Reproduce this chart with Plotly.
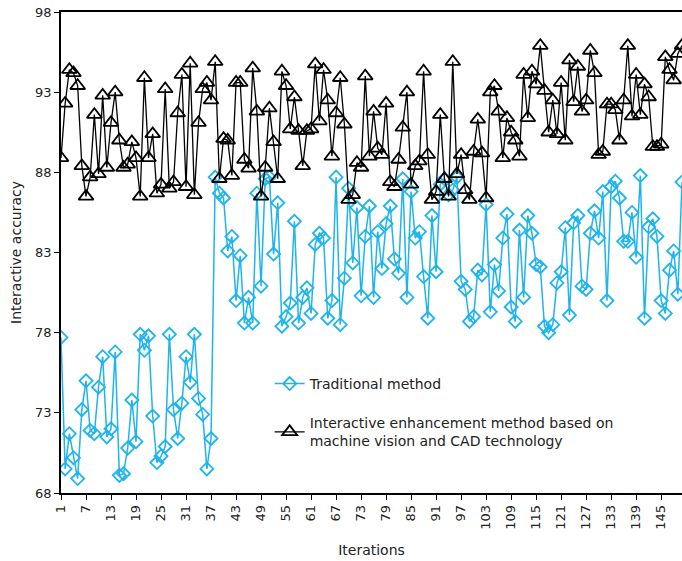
import plotly.graph_objects as go

iterations = list(range(1, 151))

traditional = [
    77.7, 69.5, 71.7, 70.2, 68.9, 73.2, 75.0, 71.9, 71.7, 74.6, 76.5, 71.5, 72.0, 76.8, 69.1, 69.2, 70.8, 73.8, 71.2, 77.9, 76.9, 77.8, 72.8, 69.9,
    70.3, 70.9, 77.9, 73.2, 71.4, 73.6, 76.5, 74.9, 77.9, 73.9, 72.9, 69.5, 71.4, 87.7, 86.7, 86.4, 83.1, 84.0, 80.0, 82.8, 78.6, 80.2, 78.6, 86.7, 80.9, 87.6,
    87.7, 82.9, 86.1, 78.4, 79.0, 79.85, 84.95, 78.6, 80.2, 80.8, 79.2, 83.5, 84.2, 83.9, 78.9, 80.0, 87.7, 78.5, 81.4, 87.0, 82.35, 85.8, 80.3, 84.0, 85.9,
    80.2, 84.3, 82.0, 84.8, 85.9, 82.6, 81.7, 87.6, 80.2, 86.8, 83.9, 84.3, 81.5, 78.9, 85.3, 81.8, 87.25, 87.6, 86.6, 86.9, 87.7, 81.2, 80.7, 78.7, 79.0,
    81.9, 81.6, 86.0, 79.3, 82.25, 80.6, 83.9, 85.4, 79.6, 78.7, 84.4, 80.2, 85.3, 84.2, 82.25, 82.1, 78.4, 78.0, 78.5, 81.1, 81.8, 84.55, 79.1, 84.85, 85.3, 80.9,
    80.7, 84.2, 85.6, 83.9, 86.8, 80.0, 87.1, 87.45, 86.4, 83.7, 83.7, 85.5, 82.7, 87.8, 78.9, 84.6, 85.1, 84.0, 80.0, 79.2, 81.9, 83.1, 80.4, 87.4,
]

enhanced = [
    88.9, 92.3, 94.4, 94.2, 93.4, 88.4, 86.5, 87.7, 91.6, 87.9, 92.8, 88.3, 91.1, 93.0, 90.0, 88.3, 88.5, 89.9, 88.9, 86.5, 93.9, 88.9, 90.4, 86.7,
    87.25, 93.2, 87.0, 87.4, 91.7, 94.1, 87.1, 94.8, 86.6, 91.1, 93.2, 93.6, 92.5, 94.9, 87.6, 90.1, 90.0, 87.8, 93.6, 93.6, 88.8, 88.25, 94.5, 91.8, 86.5, 88.3,
    92.0, 89.9, 87.6, 94.3, 93.4, 90.7, 92.7, 90.6, 88.4, 90.6, 90.7, 94.75, 91.2, 94.4, 92.5, 89.0, 91.7, 93.9, 91.0, 86.3, 86.6, 88.6, 88.3, 94.0, 89.0,
    91.8, 89.5, 89.1, 92.3, 87.4, 87.1, 88.8, 90.8, 93.0, 87.25, 88.4, 88.7, 94.3, 89.1, 86.3, 86.8, 91.6, 87.6, 86.5, 94.9, 87.9, 89.1, 86.9, 86.3, 89.3,
    91.3, 89.2, 86.4, 93.0, 93.4, 91.8, 88.9, 91.4, 90.5, 90.0, 89.0, 94.1, 91.4, 94.3, 93.5, 95.9, 93.1, 90.5, 92.5, 90.4, 93.6, 90.0, 95.0, 92.4, 94.6, 91.8,
    92.5, 95.6, 94.2, 89.1, 89.3, 92.25, 92.25, 91.9, 90.0, 92.5, 95.9, 91.5, 94.1, 91.6, 93.5, 92.7, 89.6, 89.6, 89.75, 95.2, 94.4, 93.75, 95.4, 95.9,
]

x_ticks = list(range(1, 151, 6))
y_ticks = [68, 73, 78, 83, 88, 93, 98]

FONT = "DejaVu Sans"
BLUE = "#1eb4ec"

fig = go.Figure()
fig.add_trace(go.Scatter(
    x=iterations, y=traditional, mode="lines+markers",
    name="Traditional method", legendgroup="a",
    line=dict(color=BLUE, width=1.5),
    marker=dict(symbol="diamond-open", size=10, color=BLUE, line=dict(width=1.8, color=BLUE)),
))
fig.add_trace(go.Scatter(
    x=iterations, y=enhanced, mode="lines+markers",
    name="Interactive enhancement method based on<br>machine vision and CAD technology", legendgroup="b",
    line=dict(color="#000000", width=1.3),
    marker=dict(symbol="triangle-up-open", size=13, color="#000000", line=dict(width=1.8, color="#000000")),
))

fig.update_layout(
    width=682, height=561,
    margin=dict(l=61, r=0, t=12, b=68),
    paper_bgcolor="white", plot_bgcolor="white",
    font=dict(family=FONT, size=13, color="#222222"),
    showlegend=True,
    legend=dict(
        x=0.336, y=0.26, xanchor="left", yanchor="top",
        bgcolor="rgba(0,0,0,0)", font=dict(family=FONT, size=14, color="#222222"),
        tracegroupgap=18, itemwidth=30,
    ),
    xaxis=dict(
        range=[1, 150], tickmode="array", tickvals=x_ticks, ticktext=[str(v) for v in x_ticks],
        tickangle=-90, ticks="outside", ticklen=5, tickcolor="#000", tickwidth=1,
        showline=True, linecolor="#000", linewidth=1.5, mirror=True, showgrid=False, zeroline=False,
        automargin=False, ticklabeloverflow="allow",
        title=dict(text="Iterations", font=dict(family=FONT, size=14, color="#222222"), standoff=16),
        tickfont=dict(family=FONT, size=13, color="#222222"),
    ),
    yaxis=dict(
        range=[68, 98], tickmode="array", tickvals=y_ticks, ticktext=[str(v) for v in y_ticks],
        ticks="outside", ticklen=5, tickcolor="#000", tickwidth=1,
        showline=True, linecolor="#000", linewidth=1.5, mirror=True, showgrid=False, zeroline=False,
        automargin=False, ticklabeloverflow="allow",
        title=dict(text="Interactive accuracy", font=dict(family=FONT, size=14, color="#222222"), standoff=10),
        tickfont=dict(family=FONT, size=13, color="#222222"),
    ),
)

fig.write_html("out.html", config={"displayModeBar": False},
               post_script="document.body.style.margin='0';")
